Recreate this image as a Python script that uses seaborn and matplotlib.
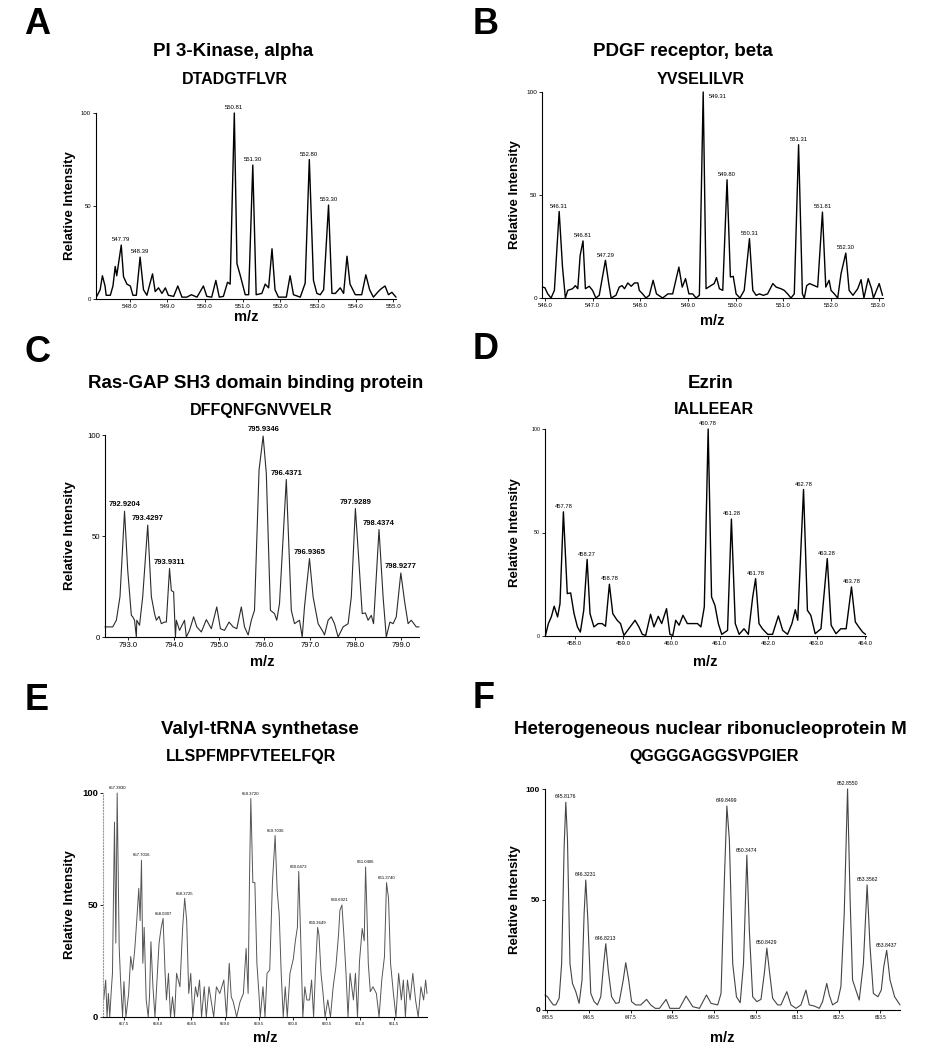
import numpy as np
import pandas as pd
import seaborn as sns
import matplotlib.pyplot as plt

# ---- Panel A: PI 3-Kinase, alpha ----
a_mz = [547.13, 547.22, 547.28, 547.35, 547.38, 547.49, 547.56, 547.62, 547.66, 547.78,
        547.84, 547.93, 548.02, 548.09, 548.18, 548.28, 548.37, 548.46, 548.61, 548.68,
        548.77, 548.86, 548.95, 549.03, 549.17, 549.28, 549.39, 549.52, 549.64, 549.79,
        549.96, 550.05, 550.18, 550.29, 550.38, 550.49, 550.60, 550.67, 550.78, 550.85,
        550.94, 551.07, 551.16, 551.27, 551.36, 551.51, 551.60, 551.69, 551.78, 551.86,
        551.95, 552.16, 552.26, 552.35, 552.53, 552.66, 552.77, 552.88, 552.97, 553.06,
        553.15, 553.28, 553.37, 553.46, 553.59, 553.68, 553.77, 553.85, 553.99, 554.16,
        554.27, 554.37, 554.47, 554.60, 554.67, 554.78, 554.87, 554.96, 555.07]
a_int = [1.4, 5, 12.5, 7, 2, 2, 7, 17.5, 12.5, 29,
         12, 8, 7, 2, 2, 22.5, 5, 2, 13.5, 4,
         6, 3, 6, 2, 1.4, 7, 1, 1, 2.3, 1,
         7, 1.4, 1, 10, 1, 1.4, 9, 8, 100, 19,
         12.5, 2.3, 2.3, 72, 2.3, 3, 8, 6, 27, 5,
         1, 1, 12.5, 2.3, 1, 8.5, 75, 10, 3, 2.3,
         5, 50.5, 3, 3, 6, 3, 23, 8, 2.3, 2.3,
         13, 5, 1, 4, 5.4, 7, 2.3, 3.6, 1]
a_peak_mz = [547.78, 548.28, 550.78, 551.27, 552.77, 553.28]
a_peak_int = [29, 22.5, 100, 72, 75, 50.5]
a_labels = ["547.79", "548.39", "550.81", "551.30", "552.80", "553.30"]
a_ticks = [548.0, 549.0, 550.0, 551.0, 552.0, 553.0, 554.0, 555.0]

# ---- Panel B: PDGF receptor, beta ----
b_mz = [545.95, 546.00, 546.06, 546.13, 546.20, 546.30, 546.37, 546.43, 546.48, 546.58,
        546.64, 546.69, 546.74, 546.80, 546.85, 546.93, 547.00, 547.07, 547.14, 547.27,
        547.34, 547.39, 547.49, 547.56, 547.62, 547.67, 547.74, 547.81, 547.88, 547.95,
        547.98, 548.05, 548.12, 548.19, 548.27, 548.34, 548.47, 548.58, 548.68, 548.81,
        548.88, 548.95, 549.02, 549.10, 549.17, 549.24, 549.32, 549.38, 549.48, 549.55,
        549.60, 549.66, 549.73, 549.82, 549.89, 549.95, 550.01, 550.09, 550.18, 550.29,
        550.36, 550.43, 550.50, 550.58, 550.67, 550.78, 550.85, 550.95, 551.02, 551.09,
        551.16, 551.23, 551.32, 551.40, 551.44, 551.49, 551.55, 551.65, 551.72, 551.82,
        551.89, 551.96, 552.00, 552.07, 552.14, 552.21, 552.31, 552.38, 552.46, 552.56,
        552.63, 552.69, 552.78, 552.85, 552.89, 553.01, 553.08]
b_int = [5.3, 5, 2, 0, 3.7, 42, 15, 0, 3.7, 4.5,
         6, 4.5, 20.7, 27.7, 4.5, 5.7, 3.7, 0, 1.3, 18.3,
         7, 0, 1.3, 5.3, 6, 4.5, 7.3, 5.7, 7.3, 7.3,
         3.7, 2, 0, 1.3, 8.6, 2, 0, 2, 2, 15,
         5.3, 9.4, 2, 2, 0, 1.3, 100, 4.5, 6, 7,
         9.9, 4.5, 3.7, 57.4, 10.2, 10.5, 2, 0, 3.7, 28.8,
         3.7, 1.3, 2, 1.3, 2, 7, 5.3, 4.5, 3.7, 2,
         0, 2, 74.4, 2, 0, 6, 7, 6, 5.3, 41.7,
         5.3, 8.6, 3.7, 2, 0, 11.8, 21.8, 3.7, 1.3, 4.5,
         8.9, 0, 9.4, 4.5, 0, 7, 1.3]
b_peak_mz = [546.30, 546.80, 547.27, 549.32, 549.82, 550.29, 551.32, 551.82, 552.31]
b_peak_int = [42, 27.7, 18.3, 100, 57.4, 28.8, 74.4, 41.7, 21.8]
b_labels = ["546.31", "546.81", "547.29", "549.31", "549.80", "550.31", "551.31", "551.81", "552.30"]
b_ticks = [546.0, 547.0, 548.0, 549.0, 550.0, 551.0, 552.0, 553.0]

# ---- Panel C: Ras-GAP SH3 domain binding protein ----
c_mz = [792.49, 792.66, 792.74, 792.82, 792.92, 792.99, 793.07, 793.10, 793.14, 793.18,
        793.19, 793.25, 793.32, 793.43, 793.51, 793.58, 793.62, 793.68, 793.73, 793.80,
        793.84, 793.91, 793.95, 794.00, 794.04, 794.06, 794.13, 794.24, 794.28, 794.35,
        794.44, 794.51, 794.61, 794.72, 794.83, 794.95, 795.03, 795.12, 795.22, 795.31,
        795.39, 795.49, 795.56, 795.64, 795.71, 795.78, 795.88, 795.97, 796.04, 796.13,
        796.22, 796.27, 796.33, 796.48, 796.59, 796.66, 796.77, 796.83, 796.88, 796.99,
        797.07, 797.18, 797.29, 797.32, 797.40, 797.47, 797.54, 797.62, 797.73, 797.84,
        797.91, 798.00, 798.08, 798.15, 798.22, 798.28, 798.35, 798.40, 798.52, 798.61,
        798.68, 798.76, 798.83, 798.90, 799.00, 799.09, 799.16, 799.23, 799.34, 799.40]
c_int = [5, 5, 8.3, 20, 62.3, 33, 10.7, 10, 8.3, 0,
         8.3, 5.8, 20, 55.4, 20, 11.6, 8.3, 10.2, 6.6, 7.4,
         7.4, 33.9, 23, 22.3, 0, 8.3, 3.3, 8.3, 0, 3.3,
         10, 5, 2.5, 8.6, 4.1, 14.9, 4.1, 3.3, 7.4, 5,
         4.1, 14.9, 5, 1, 8.3, 13.2, 82.6, 99.5, 81, 13.2,
         11.6, 8.3, 16.5, 78, 13.2, 6.6, 8.3, 0, 14.9, 38.8,
         19.8, 6.6, 2.5, 1, 8.3, 10, 6.6, 0, 5, 6.6,
         19.8, 63.6, 36.4, 11.6, 11.9, 8.3, 10.7, 6.6, 53.2, 19.8,
         0, 7.4, 6.6, 10, 31.7, 16.5, 6.6, 8.3, 5, 5]
c_peak_mz = [792.92, 793.43, 793.91, 795.97, 796.48, 796.99, 798.00, 798.52, 799.00]
c_peak_int = [62.3, 55.4, 33.9, 99.5, 78, 38.8, 63.6, 53.2, 31.7]
c_labels = ["792.9204", "793.4297", "793.9311", "795.9346", "796.4371", "796.9365",
            "797.9289", "798.4374", "798.9277"]
c_ticks = [793.0, 794.0, 795.0, 796.0, 797.0, 798.0, 799.0]

# ---- Panel D: Ezrin ----
d_mz = [457.40, 457.46, 457.52, 457.58, 457.65, 457.70, 457.77, 457.85, 457.92, 457.99,
        458.06, 458.12, 458.19, 458.26, 458.32, 458.40, 458.49, 458.57, 458.64, 458.72,
        458.79, 458.88, 458.95, 459.02, 459.12, 459.25, 459.33, 459.40, 459.47, 459.57,
        459.64, 459.73, 459.80, 459.90, 459.97, 460.03, 460.09, 460.16, 460.24, 460.33,
        460.43, 460.54, 460.61, 460.68, 460.76, 460.83, 460.90, 460.97, 461.04, 461.16,
        461.24, 461.32, 461.40, 461.50, 461.59, 461.68, 461.74, 461.81, 461.88, 461.99,
        462.09, 462.21, 462.30, 462.40, 462.49, 462.56, 462.61, 462.73, 462.81, 462.88,
        462.97, 463.09, 463.22, 463.30, 463.40, 463.50, 463.61, 463.72, 463.80, 463.87,
        463.95, 464.01]
d_int = [0.3, 6, 9.2, 14.4, 9.2, 15.6, 60, 20.5, 20.8, 10.8,
         4.4, 1.9, 12.4, 37, 10.8, 4.4, 6, 6, 4.7, 25,
         10.8, 7.6, 6, 0.3, 3.5, 7.6, 4.4, 0.8, 0.3, 10.5,
         4.4, 9.5, 6, 13.2, 0.8, 0.3, 7.6, 5.2, 10, 6,
         6, 6, 4.4, 14, 100, 18.9, 14.8, 6, 0.8, 2.7,
         56.5, 6, 0.8, 3.5, 0.8, 18.9, 27.7, 6, 3.5, 0.8,
         0.8, 9.7, 2.7, 0.8, 6, 12.7, 7.6, 70.8, 12.4, 10,
         1.1, 3.5, 37.4, 5.2, 1.1, 3.5, 3.5, 23.7, 6.8, 4.4,
         1.9, 0.8]
d_peak_mz = [457.77, 458.26, 458.72, 460.76, 461.24, 461.74, 462.73, 463.22, 463.72]
d_peak_int = [60, 37, 25, 100, 56.5, 27.7, 70.8, 37.4, 23.7]
d_labels = ["457.78", "458.27", "458.78", "460.78", "461.28", "461.78", "462.78", "463.28", "463.78"]
d_ticks = [458.0, 459.0, 460.0, 461.0, 462.0, 463.0, 464.0]

# ---- Panel E: Valyl-tRNA synthetase ----
e_mz = [657.20, 657.23, 657.25, 657.27, 657.29, 657.31, 657.33, 657.36, 657.38, 657.40,
        657.43, 657.45, 657.48, 657.50, 657.53, 657.57, 657.60, 657.63, 657.66, 657.69,
        657.72, 657.74, 657.76, 657.78, 657.80, 657.83, 657.86, 657.88, 657.90, 657.93,
        657.96, 657.99, 658.02, 658.05, 658.08, 658.11, 658.13, 658.16, 658.19, 658.22,
        658.25, 658.28, 658.33, 658.37, 658.40, 658.43, 658.46, 658.49, 658.52, 658.56,
        658.59, 658.62, 658.65, 658.69, 658.72, 658.76, 658.79, 658.83, 658.87, 658.92,
        658.98, 659.02, 659.06, 659.09, 659.12, 659.17, 659.22, 659.27, 659.31, 659.34,
        659.36, 659.38, 659.41, 659.44, 659.47, 659.50, 659.52, 659.56, 659.59, 659.62,
        659.66, 659.70, 659.74, 659.77, 659.80, 659.83, 659.86, 659.89, 659.92, 659.96,
        660.01, 660.04, 660.07, 660.09, 660.12, 660.15, 660.18, 660.21, 660.25, 660.28,
        660.31, 660.34, 660.37, 660.39, 660.42, 660.45, 660.48, 660.52, 660.56, 660.60,
        660.64, 660.68, 660.70, 660.73, 660.76, 660.79, 660.82, 660.85, 660.90, 660.93,
        660.96, 660.99, 661.03, 661.06, 661.08, 661.10, 661.12, 661.15, 661.19, 661.24,
        661.28, 661.32, 661.36, 661.39, 661.42, 661.45, 661.49, 661.53, 661.57, 661.61,
        661.64, 661.67, 661.70, 661.74, 661.78, 661.82, 661.86, 661.90, 661.94, 661.97,
        661.99]
e_int = [7.6, 16.5, 0, 10.5, 0, 10.5, 19.5, 87, 33, 100,
         31, 16.5, 0, 15.8, 0, 10.5, 27, 21, 30, 43,
         57.4, 43, 70, 24, 40, 7.6, 0, 9.8, 33.6, 13.5,
         0, 16.5, 32.8, 39.5, 44, 19.5, 7.6, 19.5, 0, 9,
         0, 19.5, 13.5, 40, 53, 43, 10.5, 19.5, 0, 13.5,
         9, 16.5, 0, 13.5, 0, 13.5, 7.6, 0, 13.5, 10.5,
         16.5, 0, 24, 9, 6.8, 0, 6.8, 10.5, 30.6, 10.5,
         61, 97.5, 60, 60, 24, 10.5, 0, 13.5, 0, 19.5,
         21, 60, 81, 56.6, 46, 19.5, 0, 13.5, 0, 19.5,
         26, 34, 40, 65, 34, 0, 13.5, 7.6, 7.6, 16.5,
         0, 22.4, 40, 36.5, 19.5, 10.5, 0, 7.6, 0, 13.5,
         22.4, 37, 47.7, 50, 35.8, 19.5, 0, 19.5, 7.6, 19.5,
         0, 25, 39.5, 34, 67, 47, 24, 11.3, 13.5, 10.5,
         0, 16.5, 27, 60, 53, 24, 11.3, 0, 19.5, 7.6,
         16.5, 0, 16.5, 7.6, 19.5, 7.6, 0, 13.5, 7.6, 16.5,
         10.5]
e_peak_mz = [657.40, 657.76, 658.08, 658.40, 659.38, 659.74, 660.09, 660.37, 660.70, 661.08, 661.39]
e_peak_int = [100, 70, 44, 53, 97.5, 81, 65, 40, 50, 67, 60]
e_labels = ["657.3830", "657.7016", "658.0307", "658.3725", "659.3720", "659.7036",
            "660.0473", "660.3649", "660.6921", "661.0406", "661.3740"]
e_ticks = [657.5, 658.0, 658.5, 659.0, 659.5, 660.0, 660.5, 661.0, 661.5]

# ---- Panel F: Heterogeneous nuclear ribonucleoprotein M ----
f_mz = [645.44, 645.50, 645.58, 645.64, 645.70, 645.78, 645.84, 645.90, 645.94, 645.98,
        646.04, 646.10, 646.18, 646.26, 646.33, 646.38, 646.42, 646.47, 646.54, 646.62,
        646.70, 646.78, 646.85, 646.90, 646.96, 647.04, 647.14, 647.22, 647.32, 647.38,
        647.45, 647.52, 647.62, 647.74, 647.88, 647.98, 648.09, 648.19, 648.35, 648.44,
        648.67, 648.83, 648.99, 649.15, 649.32, 649.43, 649.59, 649.67, 649.75, 649.81,
        649.87, 649.95, 650.04, 650.13, 650.21, 650.29, 650.35, 650.43, 650.53, 650.63,
        650.71, 650.77, 650.83, 650.91, 651.03, 651.11, 651.25, 651.35, 651.47, 651.59,
        651.71, 651.79, 651.91, 652.03, 652.11, 652.21, 652.27, 652.35, 652.47, 652.55,
        652.63, 652.71, 652.77, 652.83, 652.91, 652.99, 653.09, 653.18, 653.25, 653.33,
        653.44, 653.52, 653.58, 653.65, 653.73, 653.84, 653.97]
f_int = [6.8, 6, 3.8, 2.3, 2.3, 5.3, 21, 74, 94, 77,
         21, 12, 8.3, 3, 13.6, 43.7, 58.8, 40.7, 7.5, 3.8,
         2.3, 6, 21, 30, 18, 6, 3, 3.3, 13.6, 21.4,
         13.6, 3.8, 2.3, 2.3, 4.8, 2.3, 0.75, 0.75, 4.8, 0.75,
         0.75, 6.3, 1.5, 0.75, 6.8, 3, 2.3, 7.5, 58.8, 92.3,
         77, 21, 6, 3.3, 21, 70, 36, 6, 3.8, 4.8,
         16.6, 28, 18, 5.3, 2.3, 2.3, 8.3, 2.3, 0.75, 2.3,
         9, 2.3, 1.8, 0.75, 3.8, 12, 6.8, 2.3, 3.8, 10.6,
         43.7, 100, 51, 13.6, 9, 4.5, 21, 56.6, 28.7, 7.5,
         6, 9, 19.6, 27, 13.6, 6, 2.3]
f_peak_mz = [645.94, 646.42, 646.90, 649.81, 650.29, 650.77, 652.71, 653.18, 653.65]
f_peak_int = [94, 58.8, 30, 92.3, 70, 28, 100, 56.6, 27]
f_labels = ["645.8176", "646.3231", "646.8213", "649.8499", "650.3474", "650.8429",
            "652.8550", "653.3562", "653.8437"]
f_ticks = [645.5, 646.5, 647.5, 648.5, 649.5, 650.5, 651.5, 652.5, 653.5]

sns.set_style("ticks")
plt.rcParams["font.family"] = ["Liberation Sans", "DejaVu Sans"]
plt.rcParams.update({"text.color": "black", "axes.labelcolor": "black",
                     "xtick.color": "black", "ytick.color": "black",
                     "axes.edgecolor": "black"})

W, H = 932, 1050
fig = plt.figure(figsize=(W / 100, H / 100), dpi=100)


def px_rect(left, top, right, bottom):
    return [left / W, 1 - bottom / H, (right - left) / W, (bottom - top) / H]


panels = [
    dict(letter="A", lpos=(24, 25), title="PI 3-Kinase, alpha", tpos=(233, 51),
         sub="DTADGTFLVR", spos=(235, 80), rect=(96, 113, 396, 299), xlim=(547.11, 555.07),
         mz=a_mz, inten=a_int, pmz=a_peak_mz, pint=a_peak_int, labels=a_labels, ticks=a_ticks,
         color="black", lw=1.0, tick_fs=4.5, ytick_fs=4.3, lab_fs=4.3, ylab_x=70, xlab_y=317),
    dict(letter="B", lpos=(473, 25), title="PDGF receptor, beta", tpos=(683, 51),
         sub="YVSELILVR", spos=(701, 80), rect=(542, 92, 883, 298), xlim=(545.94, 553.09),
         mz=b_mz, inten=b_int, pmz=b_peak_mz, pint=b_peak_int, labels=b_labels, ticks=b_ticks,
         color="black", lw=1.0, tick_fs=4.3, ytick_fs=4.6, lab_fs=4.2, ylab_x=515, xlab_y=321),
    dict(letter="C", lpos=(24, 352), title="Ras-GAP SH3 domain binding protein", tpos=(256, 383),
         sub="DFFQNFGNVVELR", spos=(261, 411), rect=(105, 435, 419, 637), xlim=(792.49, 799.40),
         mz=c_mz, inten=c_int, pmz=c_peak_mz, pint=c_peak_int, labels=c_labels, ticks=c_ticks,
         color="#2b2b2b", lw=0.8, tick_fs=5.5, ytick_fs=5.6, lab_fs=5.5, ylab_x=70, xlab_y=662),
    dict(letter="D", lpos=(473, 350), title="Ezrin", tpos=(711, 383),
         sub="IALLEEAR", spos=(714, 410), rect=(545, 429, 866, 636), xlim=(457.39, 464.02),
         mz=d_mz, inten=d_int, pmz=d_peak_mz, pint=d_peak_int, labels=d_labels, ticks=d_ticks,
         color="black", lw=1.0, tick_fs=4.3, ytick_fs=3.8, lab_fs=4.2, ylab_x=515, xlab_y=662),
    dict(letter="E", lpos=(25, 700), title="Valyl-tRNA synthetase", tpos=(260, 729),
         sub="LLSPFMPFVTEELFQR", spos=(251, 757), rect=(103, 793, 427, 1017), xlim=(657.19, 661.99),
         mz=e_mz, inten=e_int, pmz=e_peak_mz, pint=e_peak_int, labels=e_labels, ticks=e_ticks,
         color="#555555", lw=0.7, tick_fs=3.0, ytick_fs=6.8, lab_fs=3.1, ylab_x=70, xlab_y=1038),
    dict(letter="F", lpos=(473, 698), title="Heterogeneous nuclear ribonucleoprotein M", tpos=(710, 729),
         sub="QGGGGAGGSVPGIER", spos=(714, 757), rect=(545, 789, 900, 1010), xlim=(645.44, 653.97),
         mz=f_mz, inten=f_int, pmz=f_peak_mz, pint=f_peak_int, labels=f_labels, ticks=f_ticks,
         color="#444444", lw=0.8, tick_fs=3.3, ytick_fs=6.0, lab_fs=3.7, ylab_x=515, xlab_y=1038),
]

for p in panels:
    ax = fig.add_axes(px_rect(*p["rect"]))
    df = pd.DataFrame({"mz": p["mz"], "intensity": p["inten"]})
    sns.lineplot(data=df, x="mz", y="intensity", ax=ax, color=p["color"], linewidth=p["lw"],
                 estimator=None, sort=False)
    for line in ax.lines:
        line.set_clip_on(False)

    ax.set_xlim(*p["xlim"])
    ax.set_ylim(0, 100)
    ax.set_xticks(p["ticks"])
    ax.set_xticklabels([f"{t:.1f}" for t in p["ticks"]], fontsize=p["tick_fs"])
    ax.set_yticks([0, 50, 100])
    ax.set_yticklabels(["0", "50", "100"], fontsize=p["ytick_fs"],
                       fontweight="bold" if p["letter"] in "EF" else "normal")
    ax.tick_params(length=2, width=0.6, pad=1.5)
    sns.despine(ax=ax)
    for s in ("left", "bottom"):
        ax.spines[s].set_linewidth(0.8)
    if p["letter"] == "E":
        ax.spines["left"].set_linestyle(":")
        ax.spines["left"].set_color("#999999")

    # axis labels
    left, top, right, bottom = p["rect"]
    ax.set_xlabel("")
    ax.set_ylabel("")
    fig.text(p["ylab_x"] / W, 1 - ((top + bottom) / 2) / H, "Relative Intensity", rotation=90,
             ha="center", va="center", fontsize=9.5, fontweight="bold")
    fig.text(((left + right) / 2) / W, 1 - p["xlab_y"] / H, "m/z",
             ha="center", va="center", fontsize=10.5, fontweight="bold")

    # peak annotations
    for x, y, lab in zip(p["pmz"], p["pint"], p["labels"]):
        if p["letter"] == "B" and y == 100:
            ax.annotate(lab, (x, y), xytext=(4, -3), textcoords="offset points",
                        ha="left", va="center", fontsize=p["lab_fs"], annotation_clip=False)
        else:
            ax.annotate(lab, (x, y), xytext=(0, 2), textcoords="offset points",
                        ha="center", va="bottom", fontsize=p["lab_fs"], annotation_clip=False,
                        fontweight="bold" if p["letter"] == "C" else "normal")

    # headings
    fig.text(p["lpos"][0] / W, 1 - p["lpos"][1] / H, p["letter"], ha="left", va="center",
             fontsize=26, fontweight="bold")
    fig.text(p["tpos"][0] / W, 1 - p["tpos"][1] / H, p["title"], ha="center", va="center",
             fontsize=13.5, fontweight="bold")
    fig.text(p["spos"][0] / W, 1 - p["spos"][1] / H, p["sub"], ha="center", va="center",
             fontsize=11.5, fontweight="bold")

fig.savefig("out.png", dpi=100)
